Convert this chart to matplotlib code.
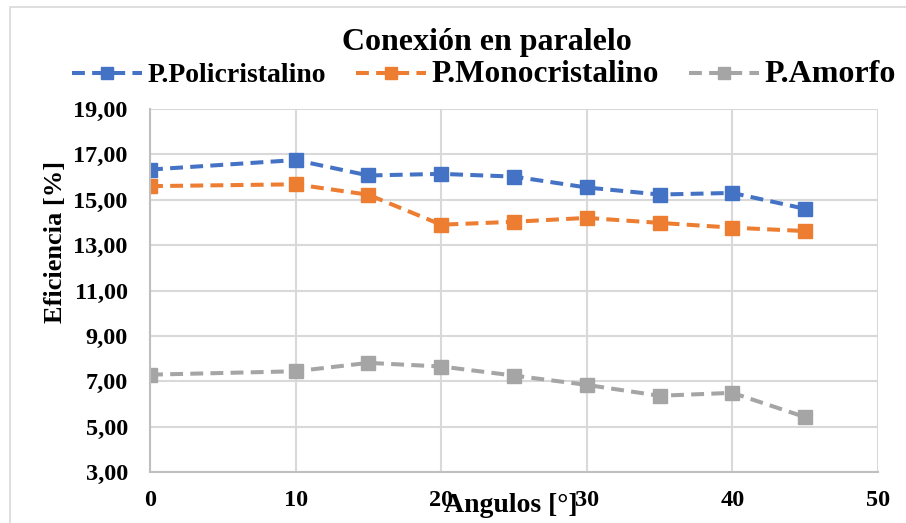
import matplotlib
matplotlib.use("Agg")
import matplotlib.pyplot as plt
from matplotlib.patches import Rectangle

angulos = [0, 10, 15, 20, 25, 30, 35, 40, 45]
policristalino = [16.33, 16.75, 16.07, 16.14, 16.02, 15.54, 15.23, 15.30, 14.60]
monocristalino = [15.60, 15.68, 15.22, 13.90, 14.03, 14.20, 13.98, 13.77, 13.62]
amorfo = [7.29, 7.44, 7.81, 7.65, 7.25, 6.84, 6.36, 6.49, 5.42]
series_names = ["P.Policristalino", "P.Monocristalino", "P.Amorfo"]
colores = ["#4472C4", "#ED7D31", "#A5A5A5"]
yticks = [3, 5, 7, 9, 11, 13, 15, 17, 19]
xticks = [0, 10, 20, 30, 40, 50]

plt.rcParams["font.family"] = ["Liberation Serif", "DejaVu Serif"]
plt.rcParams["font.weight"] = "bold"

fig = plt.figure(figsize=(9.06, 5.23), dpi=100)
ax = fig.add_axes([0.1656, 0.0975, 0.8034, 0.6941])

for ys, name, c in zip([policristalino, monocristalino, amorfo], series_names, colores):
    ax.plot(angulos, ys, color=c, lw=2.9, ls=(0, (3.2, 1.8)), marker="s",
            markersize=10.5, markerfacecolor=c, markeredgecolor=c, label=name)

ax.set_xlim(0, 50)
ax.set_ylim(3, 19)
ax.set_xticks(xticks)
ax.set_yticks(yticks)
ax.set_yticklabels([f"{v:.2f}".replace(".", ",") for v in yticks])
ax.tick_params(axis="both", length=0, labelsize=17.5)
ax.tick_params(axis="x", pad=13)
ax.tick_params(axis="y", pad=16)
ax.grid(True, color="#D9D9D9", lw=1.5)
ax.set_axisbelow(True)
for s in ["top", "right"]:
    ax.spines[s].set_visible(False)
for s in ["left", "bottom"]:
    ax.spines[s].set_color("#BFBFBF")
    ax.spines[s].set_linewidth(1.5)

ax.set_xlabel("Angulos [°]", fontsize=20, fontweight="bold")
ax.xaxis.set_label_coords(0.495, -0.092)
ax.xaxis.label.set_verticalalignment("center")
ax.set_ylabel("Eficiencia [%]", fontsize=19, fontweight="bold")
ax.yaxis.set_label_coords(-0.13, 0.634)
ax.yaxis.label.set_verticalalignment("center")

fig.text(0.537, 0.918, "Conexión en paralelo", ha="center", va="center",
         fontsize=23, fontweight="bold")

leg = ax.legend(loc="center left", bbox_to_anchor=(-0.107, 1.094), ncol=3, frameon=False,
                fontsize=20, handlelength=2.5, columnspacing=1.1, handletextpad=0.2,
                borderaxespad=0, borderpad=0, markerscale=0.85)
for t, fs in zip(leg.get_texts(), [20, 22.5, 23]):
    t.set_fontsize(fs)
    t.set_fontweight("bold")

fig.patches.append(Rectangle((10 / 906, -0.1), 1.2, 1.1 - 7 / 523,
                             transform=fig.transFigure, fill=False,
                             edgecolor="#D9D9D9", lw=1.2))

fig.savefig("out.png", dpi=100)
